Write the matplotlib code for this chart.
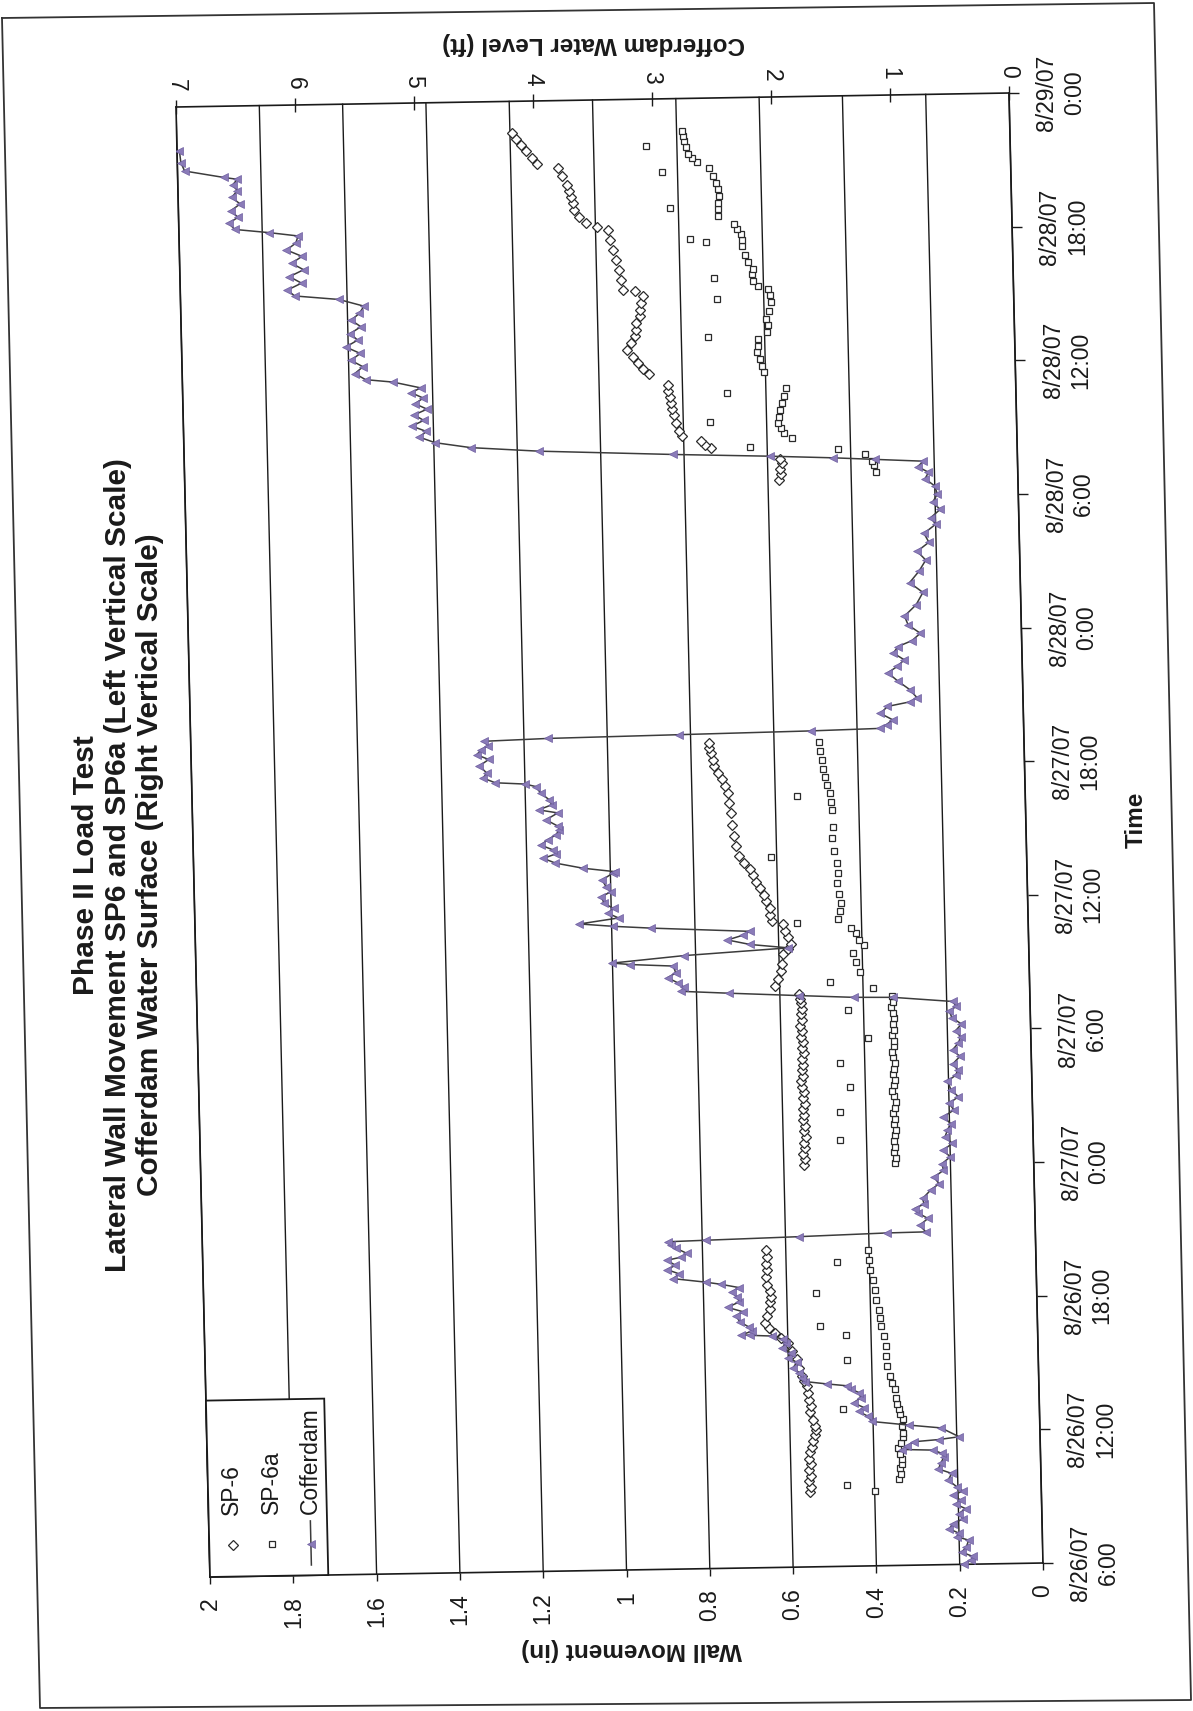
import numpy as np
import matplotlib
matplotlib.use("Agg")
import matplotlib.pyplot as plt
import matplotlib.transforms as mtransforms
from matplotlib.axes import Axes
from matplotlib.projections import register_projection
from matplotlib.lines import Line2D
from matplotlib.patches import Rectangle

plt.rcParams["font.family"] = ["Liberation Sans", "DejaVu Sans"]

# ---------------------------------------------------------------- data
# time is in hours after 8/26/07 6:00
time_ticks = [0, 6, 12, 18, 24, 30, 36, 42, 48, 54, 60, 66]
time_labels = ["8/26/07\n6:00", "8/26/07\n12:00", "8/26/07\n18:00",
               "8/27/07\n0:00", "8/27/07\n6:00", "8/27/07\n12:00",
               "8/27/07\n18:00", "8/28/07\n0:00", "8/28/07\n6:00",
               "8/28/07\n12:00", "8/28/07\n18:00", "8/29/07\n0:00"]
wall_ticks = [0.0, 0.2, 0.4, 0.6, 0.8, 1.0, 1.2, 1.4, 1.6, 1.8, 2.0]
wall_labels = ["0", "0.2", "0.4", "0.6", "0.8", "1", "1.2", "1.4", "1.6", "1.8", "2"]
level_ticks = [0, 1, 2, 3, 4, 5, 6, 7]
level_labels = ["0", "1", "2", "3", "4", "5", "6", "7"]

cofferdam_hours = [
    0.00, 0.20, 0.35, 0.55, 0.79, 1.08, 1.25, 1.40, 1.60, 1.83,
    2.05, 2.27, 2.50, 2.70, 2.89, 3.10, 3.30, 3.49, 3.79, 4.09,
    4.30, 4.55, 4.85, 5.00, 5.15, 5.20, 5.35, 5.54, 5.62, 5.73,
    6.14, 6.29, 6.48, 6.71, 6.95, 7.10, 7.33, 7.55, 7.78, 7.95,
    8.10, 8.20, 8.32, 8.50, 8.72, 8.95, 9.20, 9.40, 9.63, 9.85,
    10.05, 10.23, 10.39, 10.44, 10.47, 10.62, 10.80, 11.05, 11.33, 11.50,
    11.71, 11.95, 12.17, 12.40, 12.59, 12.75, 12.86, 13.04, 13.25, 13.45,
    13.64, 13.87, 14.00, 14.16, 14.40, 14.55, 14.70, 14.74, 14.83, 14.93,
    14.95, 15.25, 15.55, 15.80, 16.00, 16.20, 16.45, 16.83, 17.10, 17.40,
    17.70, 18.00, 18.30, 18.60, 18.90, 19.20, 19.49, 19.79, 20.10, 20.40,
    20.70, 20.99, 21.30, 21.70, 21.95, 22.18, 22.47, 22.80, 23.10, 23.40,
    23.67, 23.96, 24.25, 24.55, 24.84, 25.05, 25.27, 25.50, 25.53, 25.65,
    25.81, 25.93, 26.10, 26.30, 26.55, 26.76, 27.07, 27.17, 27.25, 27.53,
    27.80, 27.98, 28.20, 28.40, 28.57, 28.79, 28.90, 29.03, 29.27, 29.49,
    29.70, 29.94, 30.24, 30.45, 30.69, 30.99, 31.28, 31.35, 31.53, 31.78,
    32.00, 32.20, 32.38, 32.60, 32.83, 33.05, 33.28, 33.43, 33.73, 34.03,
    34.18, 34.40, 34.63, 34.93, 35.23, 35.35, 35.43, 35.65, 35.88, 36.20,
    36.48, 36.70, 36.93, 37.10, 37.30, 37.38, 37.45, 37.52, 37.58, 37.75,
    37.96, 38.25, 38.56, 38.75, 38.93, 39.30, 39.70, 40.07, 40.35, 40.64,
    40.95, 41.24, 41.50, 41.82, 42.20, 42.60, 43.10, 43.65, 44.10, 44.60,
    45.10, 45.50, 45.90, 46.30, 46.70, 47.00, 47.36, 47.70, 48.05, 48.42,
    48.75, 49.04, 49.30, 49.54, 49.66, 49.76, 49.88, 50.03, 50.28, 50.49,
    50.74, 51.00, 51.25, 51.50, 51.75, 52.00, 52.25, 52.50, 52.75, 53.00,
    53.21, 53.49, 53.62, 53.90, 54.20, 54.50, 54.80, 55.10, 55.40, 55.70,
    56.00, 56.30, 56.60, 56.92, 57.24, 57.43, 57.70, 58.00, 58.30, 58.60,
    58.90, 59.20, 59.50, 59.80, 60.12, 60.29, 60.46, 60.75, 61.00, 61.30,
    61.60, 61.90, 62.20, 62.45, 62.71, 62.80, 63.12, 63.50, 64.02,
]
cofferdam_ft = [
    0.66, 0.60, 0.59, 0.68, 0.64, 0.62, 0.72, 0.70, 0.78, 0.75,
    0.66, 0.70, 0.64, 0.72, 0.68, 0.74, 0.66, 0.71, 0.78, 0.75,
    0.86, 0.84, 0.81, 0.83, 0.90, 1.16, 1.12, 1.06, 0.85, 0.68,
    0.83, 1.10, 1.41, 1.44, 1.52, 1.47, 1.56, 1.50, 1.51, 1.58,
    1.61, 1.78, 1.96, 1.99, 2.01, 2.06, 2.03, 2.10, 2.08, 2.15,
    2.12, 2.14, 2.23, 2.42, 2.49, 2.40, 2.42, 2.50, 2.53, 2.47,
    2.60, 2.50, 2.52, 2.56, 2.50, 2.65, 2.78, 3.05, 3.00, 3.10,
    3.03, 3.10, 2.98, 2.93, 3.02, 3.06, 3.09, 2.77, 1.99, 1.25,
    0.92, 0.97, 0.90, 0.98, 1.01, 0.93, 0.94, 0.87, 0.80, 0.84,
    0.76, 0.77, 0.70, 0.76, 0.68, 0.74, 0.72, 0.69, 0.75, 0.66,
    0.70, 0.62, 0.68, 0.71, 0.64, 0.62, 0.66, 0.60, 0.66, 0.61,
    0.59, 0.63, 0.58, 0.66, 0.68, 0.62, 0.65, 1.15, 1.48, 1.94,
    2.53, 2.93, 2.90, 2.95, 3.04, 2.97, 2.99, 3.35, 3.50, 2.90,
    2.02, 2.34, 2.53, 2.40, 2.34, 3.17, 3.49, 3.77, 3.44, 3.53,
    3.48, 3.56, 3.58, 3.50, 3.54, 3.57, 3.48, 3.46, 3.73, 3.96,
    4.06, 3.95, 3.98, 4.08, 4.02, 3.95, 3.92, 3.93, 4.03, 3.93,
    4.09, 3.98, 4.00, 4.07, 4.11, 4.20, 4.45, 4.55, 4.52, 4.58,
    4.50, 4.60, 4.56, 4.50, 4.54, 4.00, 2.90, 1.79, 1.21, 1.15,
    1.10, 1.20, 1.14, 0.95, 0.89, 0.95, 1.05, 1.13, 1.05, 0.99,
    1.08, 1.04, 0.92, 0.85, 0.95, 0.98, 0.88, 0.82, 0.93, 0.85,
    0.79, 0.86, 0.76, 0.80, 0.70, 0.74, 0.66, 0.72, 0.68, 0.70,
    0.78, 0.75, 0.84, 0.79, 1.20, 1.55, 2.08, 2.89, 4.02, 4.59,
    4.89, 5.02, 4.96, 5.08, 4.98, 5.06, 4.95, 5.05, 4.98, 5.08,
    5.00, 5.23, 5.46, 5.55, 5.48, 5.58, 5.50, 5.62, 5.52, 5.58,
    5.49, 5.57, 5.50, 5.46, 5.67, 6.04, 6.10, 5.98, 6.08, 5.96,
    6.06, 5.97, 6.10, 6.02, 6.00, 6.24, 6.53, 6.58, 6.50, 6.56,
    6.48, 6.55, 6.50, 6.54, 6.50, 6.61, 6.94, 6.97, 6.98,
]

sp6_hours = [
    3.35, 3.60, 3.85, 4.10, 4.35, 4.60, 4.85, 5.15, 5.40, 5.65,
    5.90, 6.15, 6.34, 6.60, 6.94, 7.20, 7.50, 7.80, 8.14, 8.35,
    8.59, 8.95, 9.34, 9.70, 10.08, 10.30, 10.52, 10.75, 10.97, 11.30,
    11.60, 11.90, 12.16, 12.40, 12.70, 13.06, 13.35, 13.65, 13.95, 14.26,
    18.05, 18.30, 18.55, 18.80, 19.05, 19.30, 19.55, 19.80, 20.05, 20.30,
    20.55, 20.80, 21.05, 21.30, 21.55, 21.80, 22.05, 22.30, 22.55, 22.80,
    23.05, 23.30, 23.55, 23.80, 24.05, 24.30, 24.55, 24.80, 25.05, 25.30,
    25.50, 25.70, 26.08, 26.40, 26.77, 27.10, 27.52, 27.75, 27.97, 28.27,
    28.55, 28.87, 29.01, 29.30, 29.61, 29.90, 30.20, 30.50, 30.79, 31.10,
    31.37, 31.65, 31.95, 32.40, 32.84, 33.35, 33.90, 34.35, 34.81, 35.10,
    35.43, 35.70, 36.01, 36.30, 36.60, 36.85, 37.05, 48.80, 49.05, 49.30,
    49.55, 49.75, 50.30, 50.45, 50.60, 50.84, 51.10, 51.45, 51.80, 52.05,
    52.35, 52.60, 52.90, 53.17, 53.64, 53.90, 54.16, 54.45, 54.76, 55.05,
    55.36, 55.65, 55.96, 56.26, 56.55, 56.86, 57.16, 57.39, 57.47, 57.90,
    58.37, 58.80, 59.27, 59.70, 60.17, 60.30, 60.47, 60.75, 61.08, 61.40,
    61.68, 61.95, 62.20, 62.60, 62.97, 63.16, 63.45, 63.75, 64.05, 64.30,
    64.60,
]
sp6_in = [
    0.555, 0.552, 0.557, 0.553, 0.556, 0.551, 0.555, 0.553, 0.548, 0.545,
    0.541, 0.538, 0.539, 0.544, 0.551, 0.549, 0.553, 0.555, 0.556, 0.563,
    0.568, 0.574, 0.580, 0.590, 0.600, 0.617, 0.631, 0.645, 0.654, 0.648,
    0.642, 0.640, 0.637, 0.641, 0.646, 0.648, 0.645, 0.649, 0.646, 0.647,
    0.552, 0.549, 0.553, 0.548, 0.551, 0.546, 0.550, 0.547, 0.552, 0.548,
    0.551, 0.546, 0.550, 0.547, 0.551, 0.553, 0.549, 0.552, 0.548, 0.550,
    0.546, 0.551, 0.548, 0.552, 0.549, 0.553, 0.548, 0.551, 0.547, 0.550,
    0.553, 0.553, 0.612, 0.603, 0.595, 0.593, 0.591, 0.578, 0.571, 0.577,
    0.584, 0.589, 0.615, 0.619, 0.620, 0.627, 0.633, 0.641, 0.652, 0.658,
    0.665, 0.678, 0.690, 0.697, 0.702, 0.705, 0.708, 0.711, 0.713, 0.720,
    0.726, 0.737, 0.745, 0.748, 0.752, 0.757, 0.756, 0.573, 0.568, 0.571,
    0.566, 0.569, 0.735, 0.750, 0.758, 0.805, 0.811, 0.817, 0.822, 0.826,
    0.829, 0.831, 0.834, 0.835, 0.880, 0.893, 0.906, 0.918, 0.931, 0.922,
    0.911, 0.909, 0.907, 0.899, 0.897, 0.895, 0.889, 0.908, 0.937, 0.941,
    0.946, 0.952, 0.958, 0.965, 0.971, 0.997, 1.023, 1.038, 1.050, 1.053,
    1.057, 1.062, 1.067, 1.077, 1.086, 1.136, 1.148, 1.162, 1.175, 1.185,
    1.196,
]

sp6a_hours = [
    3.35, 3.67, 3.86, 4.10, 4.35, 4.55, 4.76, 5.00, 5.28, 5.50,
    5.75, 5.95, 6.25, 6.55, 6.80, 7.00, 7.08, 7.25, 7.50, 7.90,
    8.20, 8.50, 8.95, 9.27, 9.40, 9.85, 10.30, 10.36, 10.75, 10.79,
    11.10, 11.49, 11.95, 12.30, 12.40, 12.85, 13.30, 13.67, 13.75, 14.19,
    18.05, 18.30, 18.55, 18.80, 19.05, 19.13, 19.30, 19.55, 19.80, 20.05,
    20.30, 20.38, 20.55, 20.80, 21.05, 21.30, 21.49, 21.55, 21.80, 22.05,
    22.30, 22.55, 22.59, 22.80, 23.05, 23.30, 23.55, 23.70, 23.80, 24.05,
    24.30, 24.55, 24.80, 24.95, 25.05, 25.30, 25.55, 25.93, 26.23, 26.67,
    27.10, 27.50, 27.87, 28.10, 28.40, 28.64, 28.90, 29.04, 29.40, 29.78,
    30.20, 30.68, 31.10, 31.58, 31.87, 32.10, 32.70, 33.20, 33.95, 34.30,
    34.60, 34.70, 35.10, 35.45, 35.80, 36.20, 36.60, 37.00, 49.10, 49.40,
    49.60, 49.90, 50.17, 50.30, 50.67, 50.92, 51.15, 51.36, 51.47, 51.65,
    51.96, 52.25, 52.56, 52.76, 52.93, 53.66, 53.95, 54.25, 54.55, 54.85,
    55.15, 55.28, 55.45, 55.75, 56.05, 56.40, 56.80, 56.97, 57.10, 57.40,
    57.54, 57.77, 57.90, 58.05, 58.30, 58.60, 58.95, 59.34, 59.53, 59.60,
    59.68, 59.87, 60.10, 60.31, 60.70, 61.00, 61.10, 61.30, 61.60, 61.90,
    62.20, 62.50, 62.70, 62.88, 63.13, 63.30, 63.50, 63.80, 63.90, 64.10,
    64.30, 64.55,
]
sp6a_in = [
    0.400, 0.465, 0.341, 0.336, 0.338, 0.333, 0.332, 0.337, 0.342, 0.335,
    0.330, 0.328, 0.330, 0.329, 0.334, 0.337, 0.471, 0.341, 0.343, 0.345,
    0.352, 0.358, 0.364, 0.458, 0.366, 0.365, 0.370, 0.461, 0.375, 0.523,
    0.377, 0.380, 0.385, 0.531, 0.388, 0.393, 0.398, 0.477, 0.401, 0.403,
    0.333, 0.330, 0.334, 0.331, 0.335, 0.463, 0.332, 0.329, 0.333, 0.330,
    0.334, 0.461, 0.331, 0.328, 0.332, 0.335, 0.438, 0.331, 0.329, 0.333,
    0.330, 0.327, 0.459, 0.331, 0.334, 0.330, 0.328, 0.391, 0.332, 0.329,
    0.331, 0.327, 0.330, 0.438, 0.333, 0.329, 0.331, 0.375, 0.480, 0.407,
    0.415, 0.422, 0.396, 0.406, 0.415, 0.425, 0.556, 0.456, 0.452, 0.449,
    0.453, 0.457, 0.454, 0.456, 0.614, 0.461, 0.465, 0.464, 0.464, 0.467,
    0.549, 0.469, 0.474, 0.480, 0.483, 0.487, 0.490, 0.493, 0.340, 0.345,
    0.350, 0.365, 0.430, 0.641, 0.541, 0.560, 0.566, 0.573, 0.737, 0.570,
    0.566, 0.562, 0.558, 0.693, 0.551, 0.603, 0.608, 0.613, 0.620, 0.617,
    0.615, 0.736, 0.595, 0.592, 0.596, 0.588, 0.583, 0.712, 0.586, 0.589,
    0.612, 0.624, 0.719, 0.628, 0.623, 0.636, 0.643, 0.649, 0.736, 0.650,
    0.774, 0.652, 0.660, 0.667, 0.706, 0.704, 0.820, 0.705, 0.702, 0.704,
    0.708, 0.715, 0.838, 0.723, 0.752, 0.765, 0.775, 0.778, 0.874, 0.782,
    0.785, 0.787,
]

assert len(cofferdam_hours) == len(cofferdam_ft)
assert len(sp6_hours) == len(sp6_in)
assert len(sp6a_hours) == len(sp6a_in)


# ---------------------------------------------------------------- axes class
class PageAxes(Axes):
    """Axes whose frame follows the slightly rotated sheet of the printout."""
    name = "page_axes"
    frame_skew = mtransforms.Affine2D(np.array([[1.0, -34.0 / 833.0, 0.0],
                                                [14.0 / 1470.0, 1.0, 0.0],
                                                [0.0, 0.0, 1.0]]))

    def _set_lim_and_transforms(self):
        super()._set_lim_and_transforms()
        self.transAxes = self.frame_skew + mtransforms.BboxTransformTo(self.bbox)
        self.transData = self.transScale + (self.transLimits + self.transAxes)
        self._xaxis_transform = (mtransforms.blended_transform_factory(
            self.transScale + self.transLimits, mtransforms.IdentityTransform())
            + self.transAxes)
        self._yaxis_transform = (mtransforms.blended_transform_factory(
            mtransforms.IdentityTransform(), self.transScale + self.transLimits)
            + self.transAxes)


register_projection(PageAxes)

# ---------------------------------------------------------------- layout
W, H = 1193, 1711


def fx(x):
    return x / W


def fy(y):
    return 1 - y / H


TICK_FS = 16.5
TITLE_FS = 17.5
INK = "#1a1a1a"
LINE_C = "#3c3c3c"
TRI_FACE = "#8a7bb8"
TRI_EDGE = "#6f5fa0"
TRI_MS = 5.5

fig = plt.figure(figsize=(W / 100, H / 100), dpi=100)
fig.patch.set_facecolor("white")

rect = [fx(210), 134 / H, 833 / W, 1470 / H]
ax = fig.add_axes(rect, projection="page_axes")
ax2 = fig.add_axes(rect, projection="page_axes", sharey=ax)
ax2.patch.set_visible(False)

# wall movement (left scale) along the bottom edge, reversed
ax.set_xlim(2, 0)
ax.set_ylim(0, 66)
ax.set_xticks(wall_ticks)
ax.set_xticklabels(wall_labels, rotation=90)
ax.xaxis.tick_bottom()
ax.tick_params(axis="x", direction="out", length=5, width=1.0, pad=10,
               labelsize=TICK_FS, colors=INK)
ax.grid(axis="x", color=INK, lw=1.0)
ax.grid(axis="y", visible=False)
ax.set_axisbelow(True)

# time axis on the right edge
ax.yaxis.tick_right()
ax.set_yticks(time_ticks)
ax.set_yticklabels(time_labels, rotation=90, va="center", ha="left")
ax.tick_params(axis="y", direction="out", length=7, width=1.0, pad=12,
               labelsize=TICK_FS, colors=INK, left=False, right=True)
for lab in ax.get_yticklabels():
    lab.set_multialignment("center")
    lab.set_linespacing(1.25)

# cofferdam water level (right scale) along the top edge, reversed
ax2.set_xlim(7, 0)
ax2.set_xticks(level_ticks)
ax2.set_xticklabels(level_labels, rotation=-90)
ax2.xaxis.tick_top()
ax2.tick_params(axis="x", direction="inout", length=10, width=1.0, pad=6,
                labelsize=TICK_FS, colors=INK)
ax2.tick_params(axis="y", left=False, right=False, labelleft=False, labelright=False)
for sp in ax2.spines.values():
    sp.set_visible(False)

for sp in ax.spines.values():
    sp.set_color(INK)
    sp.set_linewidth(1.2)

# ---------------------------------------------------------------- series
ax.plot(sp6_in, sp6_hours, ls="none", marker="D", ms=5, mfc="white",
        mec="#2a2a2a", mew=0.9, zorder=3)
ax.plot(sp6a_in, sp6a_hours, ls="none", marker="s", ms=4.5, mfc="white",
        mec="#2a2a2a", mew=0.9, zorder=3)
ax2.plot(cofferdam_ft, cofferdam_hours, color=LINE_C, lw=1.1,
         marker="<", ms=TRI_MS, mfc=TRI_FACE, mec=TRI_EDGE, mew=0.5, zorder=4)

# ---------------------------------------------------------------- legend
box_w, box_h = 0.142, 0.12
ax2.add_patch(Rectangle((0.0, 0.0), box_w, box_h, transform=ax2.transAxes,
                        fc="white", ec=INK, lw=1.3, zorder=6, clip_on=False))

text_v, mark_v = 0.042, 0.0215
entries = [("SP-6", 0.028, "D"), ("SP-6a", 0.075, "s"), ("Cofferdam", 0.122, "<")]
for name, u, mk in entries:
    if mk == "<":
        ax2.plot([u, u], [0.007, 0.037], transform=ax2.transAxes,
                 color=LINE_C, lw=1.1, zorder=7, clip_on=False)
        ax2.plot([u], [mark_v], transform=ax2.transAxes, marker="<",
                 ms=TRI_MS, mfc=TRI_FACE, mec=TRI_EDGE, mew=0.5, zorder=8,
                 clip_on=False)
    else:
        ax2.plot([u], [mark_v], transform=ax2.transAxes, marker=mk,
                 ms=5 if mk == "D" else 4.5, mfc="white", mec="#2a2a2a",
                 mew=0.9, zorder=8, clip_on=False)
    ax2.text(u, text_v, name, rotation=90, ha="center", va="bottom",
             transform=ax2.transAxes, fontsize=TICK_FS, color=INK, zorder=8)

# ---------------------------------------------------------------- titles
fig.text(fx(118), fy(865),
         "Phase II Load Test\n"
         "Lateral Wall Movement SP6 and SP6a (Left Vertical Scale)\n"
         "Cofferdam Water Surface (Right Vertical Scale)",
         rotation=90, ha="center", va="center", multialignment="center",
         fontsize=21.5, fontweight="bold", color=INK, linespacing=1.2)
fig.text(fx(594), fy(44), "Cofferdam Water Level (ft)", rotation=180,
         ha="center", va="center", fontsize=TITLE_FS, fontweight="bold", color=INK)
fig.text(fx(632), fy(1650), "Wall Movement (in)", rotation=180,
         ha="center", va="center", fontsize=TITLE_FS, fontweight="bold", color=INK)
fig.text(fx(1136), fy(820), "Time", rotation=90,
         ha="center", va="center", fontsize=TITLE_FS, fontweight="bold", color=INK)

# sheet outline
fig.add_artist(Line2D([fx(2), fx(1154), fx(1191), fx(40), fx(2)],
                      [fy(18), fy(3), fy(1700), fy(1708), fy(18)],
                      color="#333333", lw=1.3))

fig.savefig("out.png", dpi=100, facecolor="white")
